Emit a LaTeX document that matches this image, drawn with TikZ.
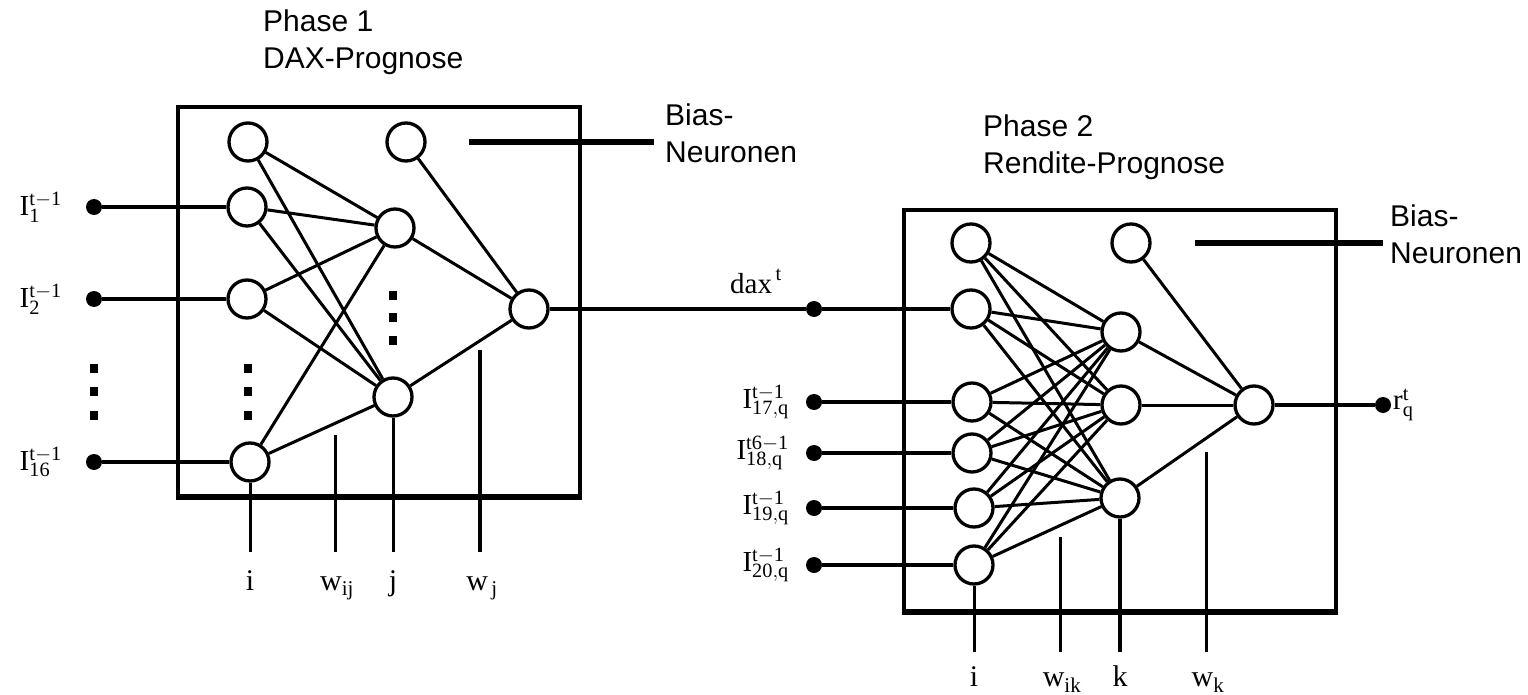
\documentclass[tikz,border=0pt]{standalone}
\usepackage{fontspec}
\setmainfont{Liberation Serif}
\setsansfont{Liberation Sans}
\usetikzlibrary{positioning}
\tikzset{
  neuron/.style={circle, draw, line width=3.3pt, minimum size=38pt, inner sep=0pt},
  pin/.style={circle, fill, inner sep=0pt, minimum size=16pt},
  link/.style={line width=3pt},
  feed/.style={line width=3.2pt},
  frame/.style={line width=4pt},
  tick/.style={line width=3pt},
  caption/.style={font=\sffamily\fontsize{30}{37}\selectfont, align=left, anchor=west, inner sep=0pt},
  sym/.style={font=\fontsize{29}{30}\selectfont, inner sep=1pt},
  tiklbl/.style={font=\fontsize{30}{32}\selectfont, anchor=base, inner sep=1pt, text height=#1},
}

\begin{document}
\begin{tikzpicture}[x=1pt, y=-1pt]
  \useasboundingbox (0,0) rectangle (1528,695);
  % Phase 1
  \draw[frame] (178,107) rectangle (580,497);
  \draw[line width=6pt] (176,497) -- (582,497);
  \node[caption] (cap1) at (263,42) {Phase 1\\DAX-Prognose};
  \node[caption] (bias1) at (665,133) {Bias-\\Neuronen};
  \coordinate (bl1) at (469,142); \coordinate (bl2) at (654,142);
  \draw[line width=6pt] (bl1) -- (bl2);
  \node[neuron] (lb) at (248,142) {};
  \node[neuron] (l1) at (247,207) {};
  \node[neuron] (l2) at (247,299) {};
  \node[neuron] (l16) at (250,462) {};
  \node[neuron] (hb) at (406,142) {};
  \node[neuron] (h1) at (395,228) {};
  \node[neuron] (h2) at (393,397) {};
  \node[neuron] (lout) at (529,309) {};
  \foreach \a in {lb,l1,l2,l16} \foreach \b in {h1,h2} \draw[link] (\a) -- (\b);
  \foreach \a in {hb,h1,h2} \draw[link] (\a) -- (lout);
  \node[pin] (p1) at (94,207) {};
  \node[pin] (p2) at (94,299) {};
  \node[pin] (p16) at (94,462) {};
  \foreach \p/\n in {p1/l1,p2/l2,p16/l16} \draw[feed] (\p) -- (\n);
  \node[sym, anchor=east] (n1) at (63,207) {$\mathrm{I}^{\mathrm{t-1}}_{\mathrm{1}}$};
  \node[sym, anchor=east] (n2) at (63,299) {$\mathrm{I}^{\mathrm{t-1}}_{\mathrm{2}}$};
  \node[sym, anchor=east] (n16) at (63,462) {$\mathrm{I}^{\mathrm{t-1}}_{\mathrm{16}}$};
  \foreach \yy in {368,391,415} {
    \fill (90,\yy-4) rectangle ++(8,9);
    \fill (244,\yy-4) rectangle ++(8,9);
  }
  \foreach \yy in {295,317,340} \fill (389,\yy-4) rectangle ++(8,9);
  % Beschriftung Phase 1
  \node[tiklbl=37pt] (li) at (250,590) {$\mathrm{i}$};
  \node[tiklbl=37pt] (lwij) at (337,590) {$\mathrm{w}_{\mathrm{ij}}$};
  \node[tiklbl=37pt] (lj) at (393,590) {$\mathrm{j}$};
  \node[tiklbl=37pt] (lwj) at (482,590) {$\mathrm{w}_{\,\mathrm{j}}$};
  \coordinate (tij) at (335,435); \coordinate (tj) at (480,350);
  \draw[tick] (l16) -- (li.north);
  \draw[tick] (tij) -- (tij |- lwij.north);
  \draw[tick] (h2) -- (lj.north);
  \draw[line width=4.5pt] (tj) -- (tj |- lwj.north);

  % Phase 2
  \draw[frame] (904,210) rectangle (1336,612);
  \draw[line width=6pt] (902,612) -- (1338,612);
  \node[caption] (cap2) at (983,147) {Phase 2\\Rendite-Prognose};
  \node[caption] (bias2) at (1390,234) {Bias-\\Neuronen};
  \coordinate (br1) at (1195,243); \coordinate (br2) at (1383,243);
  \draw[line width=6pt] (br1) -- (br2);
  \node[neuron] (rb) at (971,243) {};
  \node[neuron] (rdax) at (971,309) {};
  \node[neuron] (r17) at (972,402) {};
  \node[neuron] (r18) at (972,453) {};
  \node[neuron] (r19) at (974,508) {};
  \node[neuron] (r20) at (974,565) {};
  \node[neuron] (kb) at (1131,243) {};
  \node[neuron] (k1) at (1121,332) {};
  \node[neuron] (k2) at (1121,405) {};
  \node[neuron] (k3) at (1120,498) {};
  \node[neuron] (rout) at (1254,405) {};
  \foreach \a in {rb,rdax,r17,r18,r19,r20} \foreach \b in {k1,k2,k3} \draw[link] (\a) -- (\b);
  \foreach \a in {kb,k1,k2,k3} \draw[link] (\a) -- (rout);
  \node[pin] (pdax) at (814,309) {};
  \node[pin] (p17) at (814,402) {};
  \node[pin] (p18) at (814,453) {};
  \node[pin] (p19) at (814,508) {};
  \node[pin] (p20) at (814,565) {};
  \node[pin] (pr) at (1383,405) {};
  \draw[feed] (lout) -- (pdax);
  \foreach \p/\n in {pdax/rdax,p17/r17,p18/r18,p19/r19,p20/r20} \draw[feed] (\p) -- (\n);
  \draw[feed] (rout) -- (pr);
  \node[sym, anchor=base west] (ndax) at (729,293) {$\mathrm{dax}^{\,\mathrm{t}}$};
  \node[sym, anchor=east] (n17) at (790,402) {$\mathrm{I}^{\mathrm{t-1}}_{\mathrm{17,q}}$};
  \node[sym, anchor=east] (n18) at (790,453) {$\mathrm{I}^{\mathrm{t6-1}}_{\mathrm{18,q}}$};
  \node[sym, anchor=east] (n19) at (790,508) {$\mathrm{I}^{\mathrm{t-1}}_{\mathrm{19,q}}$};
  \node[sym, anchor=east] (n20) at (790,565) {$\mathrm{I}^{\mathrm{t-1}}_{\mathrm{20,q}}$};
  \node[sym, anchor=west] (nr) at (1392,405) {$\mathrm{r}^{\mathrm{t}}_{\mathrm{q}}$};
  % Beschriftung Phase 2
  \node[tiklbl=33pt] (ri) at (974,686) {$\mathrm{i}$};
  \node[tiklbl=33pt] (rwik) at (1062,686) {$\mathrm{w}_{\mathrm{ik}}$};
  \node[tiklbl=33pt] (rk) at (1120,686) {$\mathrm{k}$};
  \node[tiklbl=33pt] (rwk) at (1208,686) {$\mathrm{w}_{\mathrm{k}}$};
  \coordinate (tik) at (1060,537); \coordinate (tk) at (1206,452);
  \draw[tick] (r20) -- (ri.north);
  \draw[tick] (tik) -- (tik |- rwik.north);
  \draw[line width=4.5pt] (k3) -- (rk.north);
  \draw[tick] (tk) -- (tk |- rwk.north);
\end{tikzpicture}
\end{document}
